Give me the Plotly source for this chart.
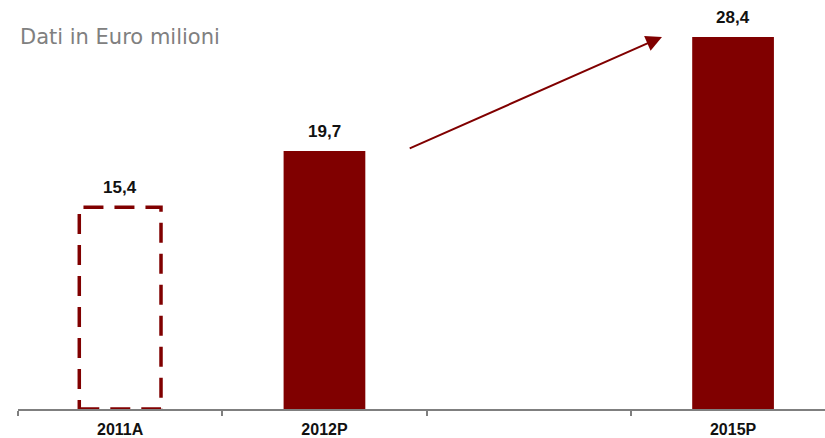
import plotly.graph_objects as go

# Revenue figures (EUR millions): actual 2011, plan 2012 and 2015
categories = ["2011A", "2012P", "2015P"]
slots = [0, 1, 3]            # slot 2 (2013-2014) left empty on the axis
values = [15.4, 19.7, 28.4]
value_labels = ["15,4", "19,7", "28,4"]
is_actual = [True, False, False]

DARK_RED = "#800000"
BAR_W = 0.4

fig = go.Figure()

# Plan years: solid bars; actual year: transparent bar with dashed outline
fig.add_trace(go.Bar(
    x=slots,
    y=values,
    width=BAR_W,
    marker=dict(
        color=["rgba(0,0,0,0)" if a else DARK_RED for a in is_actual],
        line=dict(width=0),
    ),
    hovertemplate="%{y}<extra></extra>",
    showlegend=False,
))

for s, v, a in zip(slots, values, is_actual):
    if a:
        fig.add_shape(
            type="rect", xref="x", yref="y",
            x0=s - BAR_W / 2, x1=s + BAR_W / 2, y0=0, y1=v,
            line=dict(color=DARK_RED, width=3.5, dash="20px,11px"),
            fillcolor="rgba(0,0,0,0)",
        )

# Value labels above each bar
for s, v, t in zip(slots, values, value_labels):
    fig.add_annotation(
        x=s, y=v, text=f"<b>{t}</b>", showarrow=False,
        yanchor="bottom", yshift=8,
        font=dict(family="Liberation Sans, Arial", size=17, color="#111111"),
    )

# Growth arrow from the 2012 level to the 2015 level
fig.add_annotation(
    x=2.652, y=values[2], ax=1.41, ay=values[1] + 0.15,
    xref="x", yref="y", axref="x", ayref="y",
    text="", showarrow=True,
    arrowhead=2, arrowsize=1.6, arrowwidth=2, arrowcolor=DARK_RED,
    standoff=0, startstandoff=0,
)

# Unit note
fig.add_annotation(
    xref="paper", yref="paper", x=0, y=1,
    xanchor="left", yanchor="middle",
    xshift=0, yshift=-27,
    text="Dati in Euro milioni", showarrow=False,
    font=dict(family="DejaVu Sans, Verdana", size=21, color="#808080"),
)

fig.update_layout(
    width=825, height=438,
    margin=dict(l=18, r=0, t=10, b=29),
    paper_bgcolor="white",
    plot_bgcolor="white",
    xaxis=dict(
        range=[-0.5, 3.45],
        tickmode="array",
        tickvals=slots,
        ticktext=[f"<b>{c}</b>" for c in categories],
        ticks="",
        ticklabelstandoff=5,
        showgrid=False,
        zeroline=False,
        showline=True,
        linecolor="#7f7f7f",
        linewidth=1.5,
        tickfont=dict(family="Liberation Sans, Arial", size=16, color="#111111"),
        minor=dict(
            tickmode="array",
            tickvals=[-0.5, 0.5, 1.5, 2.5],
            ticks="outside",
            ticklen=5,
            tickwidth=1.5,
            tickcolor="#7f7f7f",
            showgrid=False,
        ),
        fixedrange=True,
    ),
    yaxis=dict(
        range=[0, 30.46],
        visible=False,
        showgrid=False,
        zeroline=False,
        fixedrange=True,
    ),
)

fig.write_html("out.html")
